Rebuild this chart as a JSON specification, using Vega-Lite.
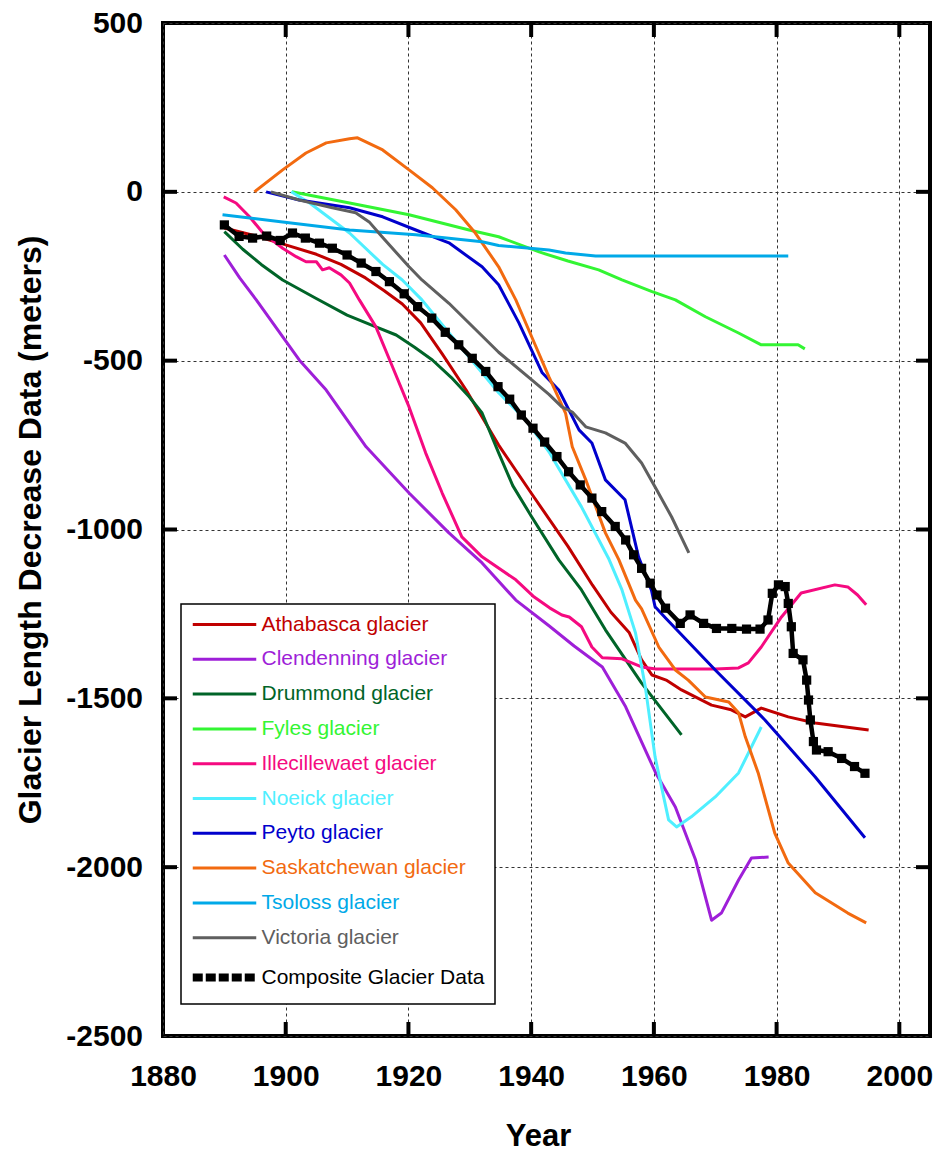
{
  "$schema": "https://vega.github.io/schema/vega-lite/v6.json",
  "width": 767,
  "height": 1013,
  "autosize": {"type": "none"},
  "padding": {"left": 163, "top": 23, "right": 11, "bottom": 118},
  "background": "white",
  "config": {
    "view": {"stroke": "black", "strokeWidth": 4},
    "font": "Liberation Sans"
  },
  "datasets": {
    "xticks": [{"year": 1900}, {"year": 1920}, {"year": 1940}, {"year": 1960}, {"year": 1980}, {"year": 2000}],
    "yticks": [{"length": -2000}, {"length": -1500}, {"length": -1000}, {"length": -500}, {"length": 0}],
    "series": [
      {"glacier": "Athabasca glacier", "year": 1890, "length": -107},
      {"glacier": "Athabasca glacier", "year": 1895, "length": -130},
      {"glacier": "Athabasca glacier", "year": 1900, "length": -157},
      {"glacier": "Athabasca glacier", "year": 1905, "length": -185},
      {"glacier": "Athabasca glacier", "year": 1909, "length": -215},
      {"glacier": "Athabasca glacier", "year": 1913, "length": -255},
      {"glacier": "Athabasca glacier", "year": 1916, "length": -292},
      {"glacier": "Athabasca glacier", "year": 1919, "length": -332},
      {"glacier": "Athabasca glacier", "year": 1922, "length": -388},
      {"glacier": "Athabasca glacier", "year": 1925.5, "length": -480},
      {"glacier": "Athabasca glacier", "year": 1929.4, "length": -587},
      {"glacier": "Athabasca glacier", "year": 1934.7, "length": -750},
      {"glacier": "Athabasca glacier", "year": 1940, "length": -892},
      {"glacier": "Athabasca glacier", "year": 1946, "length": -1050},
      {"glacier": "Athabasca glacier", "year": 1950, "length": -1165},
      {"glacier": "Athabasca glacier", "year": 1953, "length": -1245},
      {"glacier": "Athabasca glacier", "year": 1956, "length": -1306},
      {"glacier": "Athabasca glacier", "year": 1958, "length": -1386},
      {"glacier": "Athabasca glacier", "year": 1959.7, "length": -1431},
      {"glacier": "Athabasca glacier", "year": 1962, "length": -1446},
      {"glacier": "Athabasca glacier", "year": 1964.5, "length": -1475},
      {"glacier": "Athabasca glacier", "year": 1969.4, "length": -1520},
      {"glacier": "Athabasca glacier", "year": 1972.6, "length": -1534},
      {"glacier": "Athabasca glacier", "year": 1974.9, "length": -1555},
      {"glacier": "Athabasca glacier", "year": 1977.5, "length": -1529},
      {"glacier": "Athabasca glacier", "year": 1981.9, "length": -1555},
      {"glacier": "Athabasca glacier", "year": 1986.3, "length": -1573},
      {"glacier": "Athabasca glacier", "year": 1995, "length": -1594},

      {"glacier": "Clendenning glacier", "year": 1890, "length": -187},
      {"glacier": "Clendenning glacier", "year": 1892.5, "length": -255},
      {"glacier": "Clendenning glacier", "year": 1895.2, "length": -320},
      {"glacier": "Clendenning glacier", "year": 1902.2, "length": -498},
      {"glacier": "Clendenning glacier", "year": 1906.6, "length": -587},
      {"glacier": "Clendenning glacier", "year": 1913.1, "length": -755},
      {"glacier": "Clendenning glacier", "year": 1920.1, "length": -892},
      {"glacier": "Clendenning glacier", "year": 1926.6, "length": -1010},
      {"glacier": "Clendenning glacier", "year": 1932, "length": -1099},
      {"glacier": "Clendenning glacier", "year": 1937.5, "length": -1209},
      {"glacier": "Clendenning glacier", "year": 1942.9, "length": -1285},
      {"glacier": "Clendenning glacier", "year": 1947, "length": -1345},
      {"glacier": "Clendenning glacier", "year": 1951.6, "length": -1407},
      {"glacier": "Clendenning glacier", "year": 1955.4, "length": -1525},
      {"glacier": "Clendenning glacier", "year": 1960.3, "length": -1721},
      {"glacier": "Clendenning glacier", "year": 1963.5, "length": -1822},
      {"glacier": "Clendenning glacier", "year": 1966.8, "length": -1979},
      {"glacier": "Clendenning glacier", "year": 1969.4, "length": -2157},
      {"glacier": "Clendenning glacier", "year": 1971, "length": -2136},
      {"glacier": "Clendenning glacier", "year": 1973.8, "length": -2038},
      {"glacier": "Clendenning glacier", "year": 1975.9, "length": -1973},
      {"glacier": "Clendenning glacier", "year": 1978.7, "length": -1970},

      {"glacier": "Drummond glacier", "year": 1890, "length": -118},
      {"glacier": "Drummond glacier", "year": 1893, "length": -170},
      {"glacier": "Drummond glacier", "year": 1896, "length": -215},
      {"glacier": "Drummond glacier", "year": 1899.5, "length": -261},
      {"glacier": "Drummond glacier", "year": 1904.9, "length": -315},
      {"glacier": "Drummond glacier", "year": 1910, "length": -365},
      {"glacier": "Drummond glacier", "year": 1914.7, "length": -400},
      {"glacier": "Drummond glacier", "year": 1918, "length": -424},
      {"glacier": "Drummond glacier", "year": 1921, "length": -460},
      {"glacier": "Drummond glacier", "year": 1923.9, "length": -498},
      {"glacier": "Drummond glacier", "year": 1927, "length": -550},
      {"glacier": "Drummond glacier", "year": 1929.9, "length": -607},
      {"glacier": "Drummond glacier", "year": 1932, "length": -655},
      {"glacier": "Drummond glacier", "year": 1934.7, "length": -773},
      {"glacier": "Drummond glacier", "year": 1937, "length": -870},
      {"glacier": "Drummond glacier", "year": 1940, "length": -960},
      {"glacier": "Drummond glacier", "year": 1944.5, "length": -1090},
      {"glacier": "Drummond glacier", "year": 1948.2, "length": -1179},
      {"glacier": "Drummond glacier", "year": 1952.1, "length": -1297},
      {"glacier": "Drummond glacier", "year": 1958, "length": -1455},
      {"glacier": "Drummond glacier", "year": 1964.5, "length": -1608},

      {"glacier": "Fyles glacier", "year": 1901, "length": 0},
      {"glacier": "Fyles glacier", "year": 1910.4, "length": -33},
      {"glacier": "Fyles glacier", "year": 1920.1, "length": -68},
      {"glacier": "Fyles glacier", "year": 1929.9, "length": -113},
      {"glacier": "Fyles glacier", "year": 1934.7, "length": -133},
      {"glacier": "Fyles glacier", "year": 1941.3, "length": -178},
      {"glacier": "Fyles glacier", "year": 1946, "length": -205},
      {"glacier": "Fyles glacier", "year": 1951, "length": -231},
      {"glacier": "Fyles glacier", "year": 1954.8, "length": -261},
      {"glacier": "Fyles glacier", "year": 1959.6, "length": -295},
      {"glacier": "Fyles glacier", "year": 1963.5, "length": -320},
      {"glacier": "Fyles glacier", "year": 1968.4, "length": -370},
      {"glacier": "Fyles glacier", "year": 1973.8, "length": -418},
      {"glacier": "Fyles glacier", "year": 1977.5, "length": -453},
      {"glacier": "Fyles glacier", "year": 1983.5, "length": -453},
      {"glacier": "Fyles glacier", "year": 1984.6, "length": -465},

      {"glacier": "Illecillewaet glacier", "year": 1889.9, "length": -15},
      {"glacier": "Illecillewaet glacier", "year": 1891.9, "length": -33},
      {"glacier": "Illecillewaet glacier", "year": 1894.1, "length": -74},
      {"glacier": "Illecillewaet glacier", "year": 1896.3, "length": -122},
      {"glacier": "Illecillewaet glacier", "year": 1899.5, "length": -167},
      {"glacier": "Illecillewaet glacier", "year": 1901.7, "length": -192},
      {"glacier": "Illecillewaet glacier", "year": 1903.3, "length": -207},
      {"glacier": "Illecillewaet glacier", "year": 1905, "length": -207},
      {"glacier": "Illecillewaet glacier", "year": 1906, "length": -231},
      {"glacier": "Illecillewaet glacier", "year": 1907.1, "length": -225},
      {"glacier": "Illecillewaet glacier", "year": 1909, "length": -246},
      {"glacier": "Illecillewaet glacier", "year": 1910.4, "length": -270},
      {"glacier": "Illecillewaet glacier", "year": 1912, "length": -320},
      {"glacier": "Illecillewaet glacier", "year": 1914.7, "length": -400},
      {"glacier": "Illecillewaet glacier", "year": 1917.4, "length": -518},
      {"glacier": "Illecillewaet glacier", "year": 1920.1, "length": -637},
      {"glacier": "Illecillewaet glacier", "year": 1922.8, "length": -773},
      {"glacier": "Illecillewaet glacier", "year": 1925.5, "length": -892},
      {"glacier": "Illecillewaet glacier", "year": 1928.7, "length": -1022},
      {"glacier": "Illecillewaet glacier", "year": 1932, "length": -1081},
      {"glacier": "Illecillewaet glacier", "year": 1937.5, "length": -1149},
      {"glacier": "Illecillewaet glacier", "year": 1940.5, "length": -1200},
      {"glacier": "Illecillewaet glacier", "year": 1943, "length": -1232},
      {"glacier": "Illecillewaet glacier", "year": 1945, "length": -1253},
      {"glacier": "Illecillewaet glacier", "year": 1946.2, "length": -1259},
      {"glacier": "Illecillewaet glacier", "year": 1948.2, "length": -1288},
      {"glacier": "Illecillewaet glacier", "year": 1949.9, "length": -1348},
      {"glacier": "Illecillewaet glacier", "year": 1951.6, "length": -1380},
      {"glacier": "Illecillewaet glacier", "year": 1954.8, "length": -1383},
      {"glacier": "Illecillewaet glacier", "year": 1958, "length": -1407},
      {"glacier": "Illecillewaet glacier", "year": 1960.3, "length": -1413},
      {"glacier": "Illecillewaet glacier", "year": 1970, "length": -1413},
      {"glacier": "Illecillewaet glacier", "year": 1973.8, "length": -1410},
      {"glacier": "Illecillewaet glacier", "year": 1975.4, "length": -1395},
      {"glacier": "Illecillewaet glacier", "year": 1977.5, "length": -1348},
      {"glacier": "Illecillewaet glacier", "year": 1980.8, "length": -1259},
      {"glacier": "Illecillewaet glacier", "year": 1984, "length": -1188},
      {"glacier": "Illecillewaet glacier", "year": 1989.5, "length": -1164},
      {"glacier": "Illecillewaet glacier", "year": 1991.6, "length": -1170},
      {"glacier": "Illecillewaet glacier", "year": 1993.2, "length": -1194},
      {"glacier": "Illecillewaet glacier", "year": 1994.6, "length": -1223},

      {"glacier": "Noeick glacier", "year": 1900.9, "length": 0},
      {"glacier": "Noeick glacier", "year": 1903.9, "length": -33},
      {"glacier": "Noeick glacier", "year": 1910.4, "length": -122},
      {"glacier": "Noeick glacier", "year": 1915.8, "length": -215},
      {"glacier": "Noeick glacier", "year": 1919, "length": -261},
      {"glacier": "Noeick glacier", "year": 1922.2, "length": -320},
      {"glacier": "Noeick glacier", "year": 1923.9, "length": -358},
      {"glacier": "Noeick glacier", "year": 1929.3, "length": -477},
      {"glacier": "Noeick glacier", "year": 1934.7, "length": -595},
      {"glacier": "Noeick glacier", "year": 1939.1, "length": -675},
      {"glacier": "Noeick glacier", "year": 1942.9, "length": -770},
      {"glacier": "Noeick glacier", "year": 1948.2, "length": -933},
      {"glacier": "Noeick glacier", "year": 1952.6, "length": -1085},
      {"glacier": "Noeick glacier", "year": 1954.8, "length": -1179},
      {"glacier": "Noeick glacier", "year": 1957, "length": -1306},
      {"glacier": "Noeick glacier", "year": 1958.6, "length": -1466},
      {"glacier": "Noeick glacier", "year": 1960.2, "length": -1674},
      {"glacier": "Noeick glacier", "year": 1962.4, "length": -1860},
      {"glacier": "Noeick glacier", "year": 1963.7, "length": -1881},
      {"glacier": "Noeick glacier", "year": 1966.1, "length": -1851},
      {"glacier": "Noeick glacier", "year": 1970, "length": -1792},
      {"glacier": "Noeick glacier", "year": 1973.8, "length": -1721},
      {"glacier": "Noeick glacier", "year": 1977.5, "length": -1585},

      {"glacier": "Peyto glacier", "year": 1896.8, "length": 0},
      {"glacier": "Peyto glacier", "year": 1902.2, "length": -24},
      {"glacier": "Peyto glacier", "year": 1910.4, "length": -47},
      {"glacier": "Peyto glacier", "year": 1915.8, "length": -74},
      {"glacier": "Peyto glacier", "year": 1921.2, "length": -113},
      {"glacier": "Peyto glacier", "year": 1926.6, "length": -151},
      {"glacier": "Peyto glacier", "year": 1932, "length": -222},
      {"glacier": "Peyto glacier", "year": 1934.7, "length": -275},
      {"glacier": "Peyto glacier", "year": 1938, "length": -388},
      {"glacier": "Peyto glacier", "year": 1941.8, "length": -536},
      {"glacier": "Peyto glacier", "year": 1944.5, "length": -587},
      {"glacier": "Peyto glacier", "year": 1947.8, "length": -705},
      {"glacier": "Peyto glacier", "year": 1949.9, "length": -744},
      {"glacier": "Peyto glacier", "year": 1952.1, "length": -853},
      {"glacier": "Peyto glacier", "year": 1955.3, "length": -912},
      {"glacier": "Peyto glacier", "year": 1957.5, "length": -1081},
      {"glacier": "Peyto glacier", "year": 1959.6, "length": -1180},
      {"glacier": "Peyto glacier", "year": 1960.2, "length": -1229},
      {"glacier": "Peyto glacier", "year": 1961.9, "length": -1262},
      {"glacier": "Peyto glacier", "year": 1970, "length": -1416},
      {"glacier": "Peyto glacier", "year": 1978.1, "length": -1564},
      {"glacier": "Peyto glacier", "year": 1986.3, "length": -1733},
      {"glacier": "Peyto glacier", "year": 1994.4, "length": -1913},

      {"glacier": "Saskatchewan glacier", "year": 1894.9, "length": 0},
      {"glacier": "Saskatchewan glacier", "year": 1899.5, "length": 65},
      {"glacier": "Saskatchewan glacier", "year": 1903.3, "length": 115},
      {"glacier": "Saskatchewan glacier", "year": 1906.6, "length": 145},
      {"glacier": "Saskatchewan glacier", "year": 1910.4, "length": 157},
      {"glacier": "Saskatchewan glacier", "year": 1911.7, "length": 160},
      {"glacier": "Saskatchewan glacier", "year": 1915.8, "length": 124},
      {"glacier": "Saskatchewan glacier", "year": 1920.1, "length": 65},
      {"glacier": "Saskatchewan glacier", "year": 1923.9, "length": 12},
      {"glacier": "Saskatchewan glacier", "year": 1927.7, "length": -53},
      {"glacier": "Saskatchewan glacier", "year": 1930.9, "length": -122},
      {"glacier": "Saskatchewan glacier", "year": 1934.7, "length": -222},
      {"glacier": "Saskatchewan glacier", "year": 1937.5, "length": -320},
      {"glacier": "Saskatchewan glacier", "year": 1940.1, "length": -430},
      {"glacier": "Saskatchewan glacier", "year": 1942.9, "length": -548},
      {"glacier": "Saskatchewan glacier", "year": 1945.6, "length": -655},
      {"glacier": "Saskatchewan glacier", "year": 1946.7, "length": -755},
      {"glacier": "Saskatchewan glacier", "year": 1948.9, "length": -853},
      {"glacier": "Saskatchewan glacier", "year": 1952.1, "length": -1010},
      {"glacier": "Saskatchewan glacier", "year": 1954.3, "length": -1090},
      {"glacier": "Saskatchewan glacier", "year": 1957, "length": -1209},
      {"glacier": "Saskatchewan glacier", "year": 1958, "length": -1235},
      {"glacier": "Saskatchewan glacier", "year": 1960.8, "length": -1348},
      {"glacier": "Saskatchewan glacier", "year": 1963.5, "length": -1416},
      {"glacier": "Saskatchewan glacier", "year": 1965.6, "length": -1446},
      {"glacier": "Saskatchewan glacier", "year": 1968.4, "length": -1496},
      {"glacier": "Saskatchewan glacier", "year": 1972.2, "length": -1511},
      {"glacier": "Saskatchewan glacier", "year": 1973.8, "length": -1543},
      {"glacier": "Saskatchewan glacier", "year": 1974.9, "length": -1614},
      {"glacier": "Saskatchewan glacier", "year": 1977, "length": -1721},
      {"glacier": "Saskatchewan glacier", "year": 1979.7, "length": -1899},
      {"glacier": "Saskatchewan glacier", "year": 1981.9, "length": -1988},
      {"glacier": "Saskatchewan glacier", "year": 1986.3, "length": -2076},
      {"glacier": "Saskatchewan glacier", "year": 1991.6, "length": -2136},
      {"glacier": "Saskatchewan glacier", "year": 1994.6, "length": -2165},

      {"glacier": "Tsoloss glacier", "year": 1889.7, "length": -68},
      {"glacier": "Tsoloss glacier", "year": 1899.5, "length": -89},
      {"glacier": "Tsoloss glacier", "year": 1910.4, "length": -113},
      {"glacier": "Tsoloss glacier", "year": 1921.2, "length": -127},
      {"glacier": "Tsoloss glacier", "year": 1932, "length": -148},
      {"glacier": "Tsoloss glacier", "year": 1934.7, "length": -159},
      {"glacier": "Tsoloss glacier", "year": 1942.9, "length": -172},
      {"glacier": "Tsoloss glacier", "year": 1945.6, "length": -181},
      {"glacier": "Tsoloss glacier", "year": 1950.5, "length": -190},
      {"glacier": "Tsoloss glacier", "year": 1981.9, "length": -190},

      {"glacier": "Victoria glacier", "year": 1897.6, "length": 0},
      {"glacier": "Victoria glacier", "year": 1902.2, "length": -24},
      {"glacier": "Victoria glacier", "year": 1907.6, "length": -47},
      {"glacier": "Victoria glacier", "year": 1911.4, "length": -62},
      {"glacier": "Victoria glacier", "year": 1913.6, "length": -89},
      {"glacier": "Victoria glacier", "year": 1915.7, "length": -133},
      {"glacier": "Victoria glacier", "year": 1920.1, "length": -222},
      {"glacier": "Victoria glacier", "year": 1922.2, "length": -261},
      {"glacier": "Victoria glacier", "year": 1926.6, "length": -330},
      {"glacier": "Victoria glacier", "year": 1934.7, "length": -475},
      {"glacier": "Victoria glacier", "year": 1940.1, "length": -557},
      {"glacier": "Victoria glacier", "year": 1942.9, "length": -600},
      {"glacier": "Victoria glacier", "year": 1945, "length": -637},
      {"glacier": "Victoria glacier", "year": 1946.7, "length": -652},
      {"glacier": "Victoria glacier", "year": 1948.9, "length": -696},
      {"glacier": "Victoria glacier", "year": 1952.1, "length": -714},
      {"glacier": "Victoria glacier", "year": 1955.3, "length": -744},
      {"glacier": "Victoria glacier", "year": 1958, "length": -803},
      {"glacier": "Victoria glacier", "year": 1960.2, "length": -874},
      {"glacier": "Victoria glacier", "year": 1962.9, "length": -963},
      {"glacier": "Victoria glacier", "year": 1965.7, "length": -1069},

      {"glacier": "Composite Glacier Data", "year": 1890, "length": -98},
      {"glacier": "Composite Glacier Data", "year": 1892.4, "length": -132},
      {"glacier": "Composite Glacier Data", "year": 1894.6, "length": -137},
      {"glacier": "Composite Glacier Data", "year": 1896.9, "length": -131},
      {"glacier": "Composite Glacier Data", "year": 1899.1, "length": -144},
      {"glacier": "Composite Glacier Data", "year": 1901.1, "length": -122},
      {"glacier": "Composite Glacier Data", "year": 1903.2, "length": -137},
      {"glacier": "Composite Glacier Data", "year": 1905.5, "length": -152},
      {"glacier": "Composite Glacier Data", "year": 1907.6, "length": -167},
      {"glacier": "Composite Glacier Data", "year": 1910, "length": -187},
      {"glacier": "Composite Glacier Data", "year": 1912.3, "length": -211},
      {"glacier": "Composite Glacier Data", "year": 1914.7, "length": -236},
      {"glacier": "Composite Glacier Data", "year": 1916.9, "length": -266},
      {"glacier": "Composite Glacier Data", "year": 1919.3, "length": -302},
      {"glacier": "Composite Glacier Data", "year": 1921.5, "length": -340},
      {"glacier": "Composite Glacier Data", "year": 1923.8, "length": -374},
      {"glacier": "Composite Glacier Data", "year": 1926, "length": -416},
      {"glacier": "Composite Glacier Data", "year": 1928.2, "length": -453},
      {"glacier": "Composite Glacier Data", "year": 1930.4, "length": -493},
      {"glacier": "Composite Glacier Data", "year": 1932.6, "length": -532},
      {"glacier": "Composite Glacier Data", "year": 1934.6, "length": -577},
      {"glacier": "Composite Glacier Data", "year": 1936.5, "length": -614},
      {"glacier": "Composite Glacier Data", "year": 1938.4, "length": -661},
      {"glacier": "Composite Glacier Data", "year": 1940.3, "length": -700},
      {"glacier": "Composite Glacier Data", "year": 1942.2, "length": -741},
      {"glacier": "Composite Glacier Data", "year": 1944.2, "length": -784},
      {"glacier": "Composite Glacier Data", "year": 1946.1, "length": -829},
      {"glacier": "Composite Glacier Data", "year": 1948, "length": -868},
      {"glacier": "Composite Glacier Data", "year": 1949.9, "length": -907},
      {"glacier": "Composite Glacier Data", "year": 1951.5, "length": -947},
      {"glacier": "Composite Glacier Data", "year": 1953.7, "length": -991},
      {"glacier": "Composite Glacier Data", "year": 1955.4, "length": -1031},
      {"glacier": "Composite Glacier Data", "year": 1956.7, "length": -1075},
      {"glacier": "Composite Glacier Data", "year": 1958, "length": -1115},
      {"glacier": "Composite Glacier Data", "year": 1959.4, "length": -1159},
      {"glacier": "Composite Glacier Data", "year": 1960.5, "length": -1194},
      {"glacier": "Composite Glacier Data", "year": 1961.9, "length": -1233},
      {"glacier": "Composite Glacier Data", "year": 1964.3, "length": -1278},
      {"glacier": "Composite Glacier Data", "year": 1965.9, "length": -1253},
      {"glacier": "Composite Glacier Data", "year": 1968.1, "length": -1278},
      {"glacier": "Composite Glacier Data", "year": 1970.2, "length": -1293},
      {"glacier": "Composite Glacier Data", "year": 1972.7, "length": -1293},
      {"glacier": "Composite Glacier Data", "year": 1975.1, "length": -1295},
      {"glacier": "Composite Glacier Data", "year": 1977.3, "length": -1295},
      {"glacier": "Composite Glacier Data", "year": 1978.6, "length": -1268},
      {"glacier": "Composite Glacier Data", "year": 1979.3, "length": -1189},
      {"glacier": "Composite Glacier Data", "year": 1980.3, "length": -1164},
      {"glacier": "Composite Glacier Data", "year": 1981.4, "length": -1169},
      {"glacier": "Composite Glacier Data", "year": 1981.9, "length": -1219},
      {"glacier": "Composite Glacier Data", "year": 1982.4, "length": -1288},
      {"glacier": "Composite Glacier Data", "year": 1982.7, "length": -1367},
      {"glacier": "Composite Glacier Data", "year": 1984.3, "length": -1386},
      {"glacier": "Composite Glacier Data", "year": 1984.9, "length": -1446},
      {"glacier": "Composite Glacier Data", "year": 1985.2, "length": -1505},
      {"glacier": "Composite Glacier Data", "year": 1985.5, "length": -1564},
      {"glacier": "Composite Glacier Data", "year": 1986, "length": -1628},
      {"glacier": "Composite Glacier Data", "year": 1986.5, "length": -1653},
      {"glacier": "Composite Glacier Data", "year": 1988.4, "length": -1658},
      {"glacier": "Composite Glacier Data", "year": 1990.6, "length": -1678},
      {"glacier": "Composite Glacier Data", "year": 1992.7, "length": -1702},
      {"glacier": "Composite Glacier Data", "year": 1994.4, "length": -1722}
    ]
  },
  "layer": [
    {
      "data": {"name": "series"},
      "mark": {"type": "line", "strokeWidth": 3, "strokeJoin": "round"},
      "encoding": {
        "x": {
          "field": "year", "type": "quantitative",
          "scale": {"domain": [1880, 2005], "nice": false, "zero": false},
          "axis": {
            "orient": "bottom",
            "values": [1880, 1900, 1920, 1940, 1960, 1980, 2000],
            "labelExpr": "'' + datum.value",
            "title": "Year",
            "titleX": 375,
            "grid": true, "gridDash": [3, 3], "gridColor": "#333333", "gridWidth": 1,
            "domain": false,
            "ticks": false, "tickSize": 0,
            "labelFont": "Liberation Sans", "labelFontSize": 30, "labelFontWeight": "bold", "labelColor": "black",
            "labelPadding": 25.5, "labelDx": 3, "labelFlush": false, "labelOverlap": false,
            "titleFont": "Liberation Sans", "titleFontSize": 31, "titleFontWeight": "bold", "titleColor": "black",
            "titlePadding": 30
          }
        },
        "y": {
          "field": "length", "type": "quantitative",
          "scale": {"domain": [-2500, 500], "nice": false, "zero": false},
          "axis": {
            "orient": "left",
            "values": [-2500, -2000, -1500, -1000, -500, 0, 500],
            "labelExpr": "'' + datum.value",
            "title": "Glacier Length Decrease Data (meters)",
            "grid": true, "gridDash": [3, 3], "gridColor": "#333333", "gridWidth": 1,
            "domain": false,
            "ticks": false, "tickSize": 0,
            "labelFont": "Liberation Sans", "labelFontSize": 30, "labelFontWeight": "bold", "labelColor": "black",
            "labelPadding": 20.5, "labelFlush": false, "labelOverlap": false,
            "titleFont": "Liberation Sans", "titleFontSize": 32, "titleFontWeight": "bold", "titleColor": "black",
            "titlePadding": 18
          }
        },
        "color": {
          "field": "glacier", "type": "nominal",
          "scale": {
            "domain": ["Athabasca glacier", "Clendenning glacier", "Drummond glacier", "Fyles glacier", "Illecillewaet glacier", "Noeick glacier", "Peyto glacier", "Saskatchewan glacier", "Tsoloss glacier", "Victoria glacier", "Composite Glacier Data"],
            "range": ["#C00000", "#9E1FD8", "#006428", "#33F533", "#F50A80", "#4FEFFF", "#0000CC", "#F26A10", "#00A9E8", "#5F5F5F", "#000000"]
          },
          "legend": {
            "orient": "none", "legendX": 18, "legendY": 581,
            "title": null,
            "padding": 10,
            "fillColor": "white", "strokeColor": "black",
            "symbolType": "M-0.875,0H5.475",
            "symbolSize": 400,
            "symbolStrokeWidth": 1.5,
            "labelFont": "Liberation Sans", "labelFontSize": 21, "labelOffset": 49.5,
            "labelLimit": 500,
            "rowPadding": 12.8,
            "encode": {
              "symbols": {
                "update": {
                  "stroke": {"scale": "color", "field": "value"},
                  "fill": {"value": "transparent"},
                  "strokeWidth": {"signal": "datum.value === 'Composite Glacier Data' ? 8 : 3"},
                  "strokeDash": {"signal": "datum.value === 'Composite Glacier Data' ? [10, 3] : [1, 0]"}
                }
              },
              "labels": {
                "update": {"fill": {"scale": "color", "field": "value"}}
              },
              "legend": {
                "update": {"strokeWidth": {"value": 1.5}}
              }
            }
          }
        }
      }
    },
    {
      "data": {"name": "series"},
      "transform": [{"filter": "datum.glacier === 'Composite Glacier Data'"}],
      "mark": {"type": "line", "strokeWidth": 4.5, "color": "black", "strokeJoin": "miter"},
      "encoding": {
        "x": {"field": "year", "type": "quantitative"},
        "y": {"field": "length", "type": "quantitative"}
      }
    },
    {
      "data": {"name": "series"},
      "transform": [{"filter": "datum.glacier === 'Composite Glacier Data'"}],
      "mark": {"type": "point", "shape": "square", "filled": true, "size": 85, "color": "black", "opacity": 1},
      "encoding": {
        "x": {"field": "year", "type": "quantitative"},
        "y": {"field": "length", "type": "quantitative"}
      }
    },
    {
      "data": {"name": "xticks"},
      "mark": {"type": "tick", "orient": "vertical", "thickness": 4, "size": 14, "color": "black", "opacity": 1, "yOffset": -7},
      "encoding": {
        "x": {"field": "year", "type": "quantitative"},
        "y": {"datum": -2500, "type": "quantitative"}
      }
    },
    {
      "data": {"name": "xticks"},
      "mark": {"type": "tick", "orient": "vertical", "thickness": 4, "size": 14, "color": "black", "opacity": 1, "yOffset": 7},
      "encoding": {
        "x": {"field": "year", "type": "quantitative"},
        "y": {"datum": 500, "type": "quantitative"}
      }
    },
    {
      "data": {"name": "yticks"},
      "mark": {"type": "tick", "orient": "horizontal", "thickness": 4, "size": 14, "color": "black", "opacity": 1, "xOffset": 7},
      "encoding": {
        "y": {"field": "length", "type": "quantitative"},
        "x": {"datum": 1880, "type": "quantitative"}
      }
    },
    {
      "data": {"name": "yticks"},
      "mark": {"type": "tick", "orient": "horizontal", "thickness": 4, "size": 14, "color": "black", "opacity": 1, "xOffset": -7},
      "encoding": {
        "y": {"field": "length", "type": "quantitative"},
        "x": {"datum": 2005, "type": "quantitative"}
      }
    }
  ]
}
